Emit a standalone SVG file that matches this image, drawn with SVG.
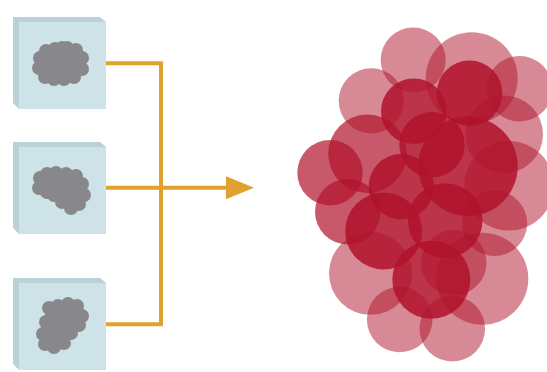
<svg xmlns="http://www.w3.org/2000/svg" width="547" height="372" viewBox="0 0 547 372">
  <style>
    .back { fill: #b9d2d7; }
    .face { fill: #cde3e7; }
    .blob { fill: #87878c; }
    .wire { fill: none; stroke: #e1a12e; stroke-width: 4; stroke-linecap: butt; stroke-linejoin: miter; }
    .cell { fill: #b0132b; }
    .lt { fill-opacity: 0.5; }
    .md { fill-opacity: 0.7; }
    .dk { fill-opacity: 0.86; }
  </style>
  <defs>
    <marker id="head" viewBox="0 0 28 23" refX="0" refY="11.5" markerUnits="userSpaceOnUse" markerWidth="28" markerHeight="23" orient="auto">
      <path d="M0,0 L28,11.5 L0,23 Z" fill="#e1a12e"/>
    </marker>
    <g id="tile">
      <path class="back" d="M13,0 L100,0 L106,5 L106,92 L19,92 L13,86 Z"/>
      <rect class="face" x="19" y="5" width="87" height="87"/>
    </g>
  </defs>

  <!-- source samples -->
  <g id="sample-1">
    <use href="#tile" y="17"/>
    <g class="blob">
      <ellipse cx="61" cy="63" rx="22" ry="16"/>
      <circle cx="40" cy="58" r="7"/>
      <circle cx="39" cy="68" r="7"/>
      <circle cx="45" cy="77" r="7"/>
      <circle cx="54" cy="79" r="7"/>
      <circle cx="64" cy="79" r="7"/>
      <circle cx="74" cy="77" r="7"/>
      <circle cx="82" cy="69" r="7"/>
      <circle cx="82" cy="58" r="7"/>
      <circle cx="76" cy="50" r="7"/>
      <circle cx="67" cy="48" r="7"/>
      <circle cx="62" cy="47" r="6"/>
      <circle cx="55" cy="49" r="7"/>
      <circle cx="46" cy="51" r="7"/>
    </g>
  </g>

  <g id="sample-2">
    <use href="#tile" y="142"/>
    <g class="blob">
      <polygon points="40,174 80,174 86,195 80,208 66,210 54,198 40,190"/>
      <circle cx="40" cy="178" r="7"/>
      <circle cx="39" cy="188" r="7"/>
      <circle cx="47" cy="174" r="7"/>
      <circle cx="56" cy="173" r="7"/>
      <circle cx="66" cy="174" r="7"/>
      <circle cx="76" cy="176" r="7"/>
      <circle cx="82" cy="184" r="7"/>
      <circle cx="84" cy="195" r="7"/>
      <circle cx="79" cy="204" r="7"/>
      <circle cx="71" cy="208" r="7"/>
      <circle cx="62" cy="202" r="7"/>
      <circle cx="54" cy="195" r="7"/>
      <circle cx="47" cy="192" r="7"/>
    </g>
  </g>

  <g id="sample-3">
    <use href="#tile" y="278"/>
    <g class="blob">
      <polygon points="46,310 80,304 86,318 76,334 62,347 46,345 42,330"/>
      <circle cx="49" cy="308" r="7"/>
      <circle cx="58" cy="306" r="7"/>
      <circle cx="68" cy="304" r="7"/>
      <circle cx="77" cy="306" r="7"/>
      <circle cx="82" cy="316" r="7"/>
      <circle cx="79" cy="325" r="7"/>
      <circle cx="71" cy="333" r="7"/>
      <circle cx="64" cy="343" r="7"/>
      <circle cx="54" cy="347" r="7"/>
      <circle cx="45" cy="344" r="7"/>
      <circle cx="43" cy="334" r="7"/>
      <circle cx="46" cy="322" r="7"/>
    </g>
  </g>

  <!-- merge connectors -->
  <g id="connectors">
    <path class="wire" d="M106,63.3 H161 V324.3 H106"/>
    <path class="wire" d="M106,187.7 H226" marker-end="url(#head)"/>
  </g>

  <!-- merged aggregate -->
  <g id="aggregate">
    <g class="cell lt">
      <circle cx="413.2" cy="60" r="32.5"/>
      <circle cx="471.7" cy="78.3" r="46"/>
      <circle cx="519.5" cy="88.8" r="32.8"/>
      <circle cx="371.3" cy="100.8" r="32.6"/>
      <circle cx="504.2" cy="134.3" r="38.8"/>
      <circle cx="509" cy="185.8" r="44.8"/>
      <circle cx="494.5" cy="223.3" r="32.7"/>
      <circle cx="453.8" cy="262.7" r="32.7"/>
      <circle cx="482.3" cy="278.7" r="46"/>
      <circle cx="370.5" cy="273.3" r="41.5"/>
      <circle cx="399.7" cy="319.5" r="32.8"/>
      <circle cx="452.3" cy="328.8" r="32.8"/>
    </g>
    <g class="cell md">
      <circle cx="367.5" cy="153.8" r="39.3"/>
      <circle cx="330" cy="172.7" r="32.7"/>
      <circle cx="347.8" cy="211.8" r="32.8"/>
    </g>
    <g class="cell dk">
      <circle cx="469.5" cy="93.3" r="32.8"/>
      <circle cx="413.8" cy="111.3" r="32.8"/>
      <circle cx="432" cy="144.8" r="32.7"/>
      <circle cx="468" cy="166.3" r="49.7"/>
      <circle cx="401.3" cy="186.7" r="32.7"/>
      <circle cx="445.2" cy="220.5" r="37.3"/>
      <circle cx="383.7" cy="231" r="38.5"/>
      <circle cx="431.3" cy="279.7" r="39"/>
    </g>
  </g>
</svg>
